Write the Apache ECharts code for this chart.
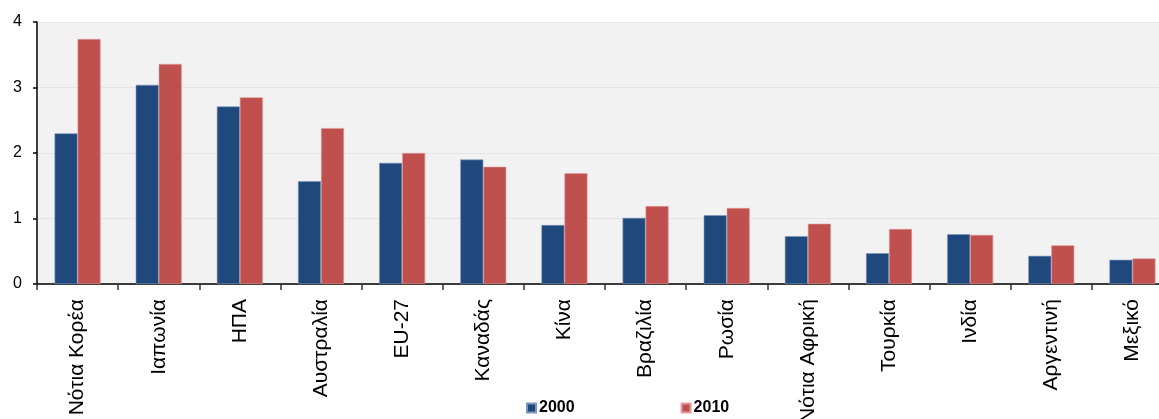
<!DOCTYPE html>
<html>
<head>
<meta charset="utf-8">
<script src="https://cdn.jsdelivr.net/npm/echarts@6/dist/echarts.min.js"></script>
<style>
html,body{margin:0;padding:0;background:#fff;overflow:hidden;width:1159px;height:419px;}
#chart{width:1173px;height:419px;}
</style>
</head>
<body>
<div id="chart"></div>
<script>
const categories = ['Νότια Κορέα','Ιαπωνία','ΗΠΑ','Αυστραλία','EU-27','Καναδάς','Κίνα','Βραζιλία','Ρωσία','Νότια Αφρική','Τουρκία','Ινδία','Αργεντινή','Μεξικό'];
const values2000 = [2.30, 3.04, 2.71, 1.57, 1.85, 1.90, 0.90, 1.01, 1.05, 0.73, 0.47, 0.76, 0.43, 0.37];
const values2010 = [3.74, 3.36, 2.85, 2.38, 2.00, 1.79, 1.69, 1.19, 1.16, 0.92, 0.84, 0.75, 0.59, 0.39];
const yTicks = [0, 1, 2, 3, 4];

const chart = echarts.init(document.getElementById('chart'), null, {renderer: 'canvas'});
const font = 'Liberation Sans, Arial, sans-serif';
chart.setOption({
  animation: false,
  textStyle: {fontFamily: font},
  grid: {left: 37, right: 0, top: 22, bottom: 135, show: true, backgroundColor: '#F2F2F2', borderWidth: 0,
         containLabel: false, outerBoundsMode: 'none'},
  legend: {
    left: 526, top: 400, padding: 0,
    itemWidth: 9, itemHeight: 9, itemGap: 106,
    icon: 'rect',
    textStyle: {fontFamily: font, fontSize: 16, fontWeight: 'bold', color: '#000', padding: [0, 0, 0, -2]},
    data: ['2000', '2010']
  },
  xAxis: {
    type: 'category',
    data: categories,
    boundaryGap: true,
    axisLine: {lineStyle: {color: '#000', width: 1.5}},
    axisTick: {show: true, length: 6, alignWithLabel: false, lineStyle: {color: '#333', width: 1.5}},
    axisLabel: {rotate: 90, interval: 0, margin: 15, fontSize: 21, color: '#000', fontFamily: font}
  },
  yAxis: {
    type: 'value',
    min: yTicks[0], max: yTicks[yTicks.length - 1], interval: 1,
    axisLine: {show: true, lineStyle: {color: '#000', width: 1.5}},
    axisTick: {show: true, length: 4, lineStyle: {color: '#000', width: 1.5}},
    axisLabel: {fontSize: 16, color: '#000', margin: 15, fontFamily: font},
    splitLine: {show: true, lineStyle: {color: '#E4E4E4', width: 1}}
  },
  series: [
    {name: '2000', type: 'bar', data: values2000, barWidth: 23, barGap: '0%',
     itemStyle: {color: '#1F497D', borderColor: '#7C95B8', borderWidth: 0.6}},
    {name: '2010', type: 'bar', data: values2010, barWidth: 23, barGap: '0%',
     itemStyle: {color: '#C0504D', borderColor: '#DE9C9A', borderWidth: 0.6}}
  ]
});
</script>
</body>
</html>
